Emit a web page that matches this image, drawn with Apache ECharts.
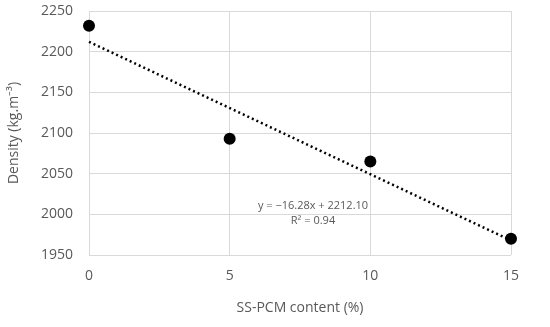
<!DOCTYPE html>
<html><head><meta charset="utf-8">
<script src="https://cdn.jsdelivr.net/npm/echarts@6/dist/echarts.min.js"></script>
<style>html,body{margin:0;padding:0;background:#fff}#c{width:550px;height:327px}</style>
</head><body><div id="c"></div>
<script>
const contents = [0, 5, 10, 15];
const densities = [2232, 2093, 2065, 1970];
const xTicks = [0, 5, 10, 15];
const yTicks = [1950, 2000, 2050, 2100, 2150, 2200, 2250];

// least squares fit
const n = contents.length;
const mx = contents.reduce((a,b)=>a+b,0)/n;
const my = densities.reduce((a,b)=>a+b,0)/n;
let sxy=0, sxx=0, syy=0;
for (let i=0;i<n;i++){sxy+=(contents[i]-mx)*(densities[i]-my);sxx+=(contents[i]-mx)**2;syy+=(densities[i]-my)**2;}
const slope = sxy/sxx, icpt = my - slope*mx;
const r2 = (sxy*sxy)/(sxx*syy);
const xMin = xTicks[0], xMax = xTicks[xTicks.length-1];
const trend = [[xMin, icpt+slope*xMin],[xMax, icpt+slope*xMax]];

const font = 'Open Sans';
const txt = '#595959';
const chart = echarts.init(document.getElementById('c'));
chart.setOption({
  animation:false,
  grid:{left:89,right:39,top:11,bottom:72,outerBoundsMode:'none',containLabel:false},
  xAxis:{type:'value',min:xMin,max:xMax,interval:5,
    axisLine:{show:false},axisTick:{show:false},
    splitLine:{show:true,lineStyle:{color:'#d9d9d9',width:1}},
    axisLabel:{color:txt,fontFamily:font,fontSize:14,margin:14,formatter:v=>String(v)},
    name:'SS-PCM content (%)',nameLocation:'middle',nameGap:46,
    nameTextStyle:{color:txt,fontFamily:font,fontSize:14}},
  yAxis:{type:'value',min:yTicks[0],max:yTicks[yTicks.length-1],interval:50,
    axisLine:{show:false},axisTick:{show:false},
    splitLine:{show:true,lineStyle:{color:'#d9d9d9',width:1}},
    axisLabel:{color:txt,fontFamily:font,fontSize:14,margin:16,formatter:v=>String(v)},
    name:'Density (kg.m\u207B\u00B3)',nameLocation:'middle',nameGap:68,
    nameTextStyle:{color:txt,fontFamily:font,fontSize:14}},
  series:[
    {type:'line',data:trend,symbol:'none',silent:true,
     lineStyle:{color:'#000',width:2.5,type:[2,3]},z:2},
    {type:'scatter',data:contents.map((x,i)=>[x,densities[i]]),
     symbolSize:12,itemStyle:{color:'#000',opacity:1},z:3}
  ],
  graphic:[{type:'text',x:313,y:198,
    style:{text:'y = \u2212'+Math.abs(slope).toFixed(2)+'x + '+icpt.toFixed(2)+'\nR\u00B2 = '+r2.toFixed(2),
      fill:txt,font:'11px "Open Sans"',align:'center',textAlign:'center',lineHeight:15}}]
});
</script></body></html>
